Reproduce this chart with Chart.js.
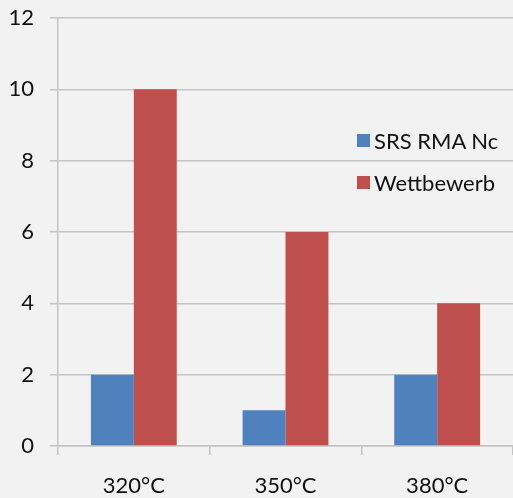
<!DOCTYPE html>
<html>
<head>
<meta charset="utf-8">
<script src="https://cdn.jsdelivr.net/npm/chart.js@4.4.1/dist/chart.umd.min.js"></script>
<style>
  html, body { margin: 0; padding: 0; background: #f2f2f2; }
  #wrap { position: relative; width: 513px; height: 498px; overflow: hidden; background: #f2f2f2; }
  #legend { position: absolute; left: 357px; top: 0; font-family: Lato, sans-serif; font-size: 22px; color: #111; }
  .item { position: absolute; left: 0; white-space: nowrap; display: flex; align-items: center; height: 30px; }
  .sw { width: 13px; height: 13px; margin-right: 4px; flex: none; }
</style>
</head>
<body>
<div id="wrap">
  <canvas id="c" width="513" height="498"></canvas>
  <div id="legend"></div>
</div>
<script>
const categories = ["320°C", "350°C", "380°C"];
const seriesNames = ["SRS RMA Nc", "Wettbewerb"];
const srsValues = [2, 1, 2];
const wettbewerbValues = [10, 6, 4];
const yTicks = [0, 2, 4, 6, 8, 10, 12];

const colors = ["#4f81bd", "#c0504d"];
const gridColor = "#c4c4c4";

const chart = new Chart(document.getElementById("c"), {
  type: "bar",
  data: {
    labels: categories,
    datasets: [
      { label: seriesNames[0], data: srsValues, backgroundColor: colors[0] },
      { label: seriesNames[1], data: wettbewerbValues, backgroundColor: colors[1] }
    ]
  },
  options: {
    responsive: false,
    animation: false,
    layout: { padding: { top: 18, right: 0, left: 0, bottom: 0 } },
    datasets: { bar: { categoryPercentage: 0.566, barPercentage: 1.0 } },
    plugins: { legend: { display: false }, tooltip: { enabled: false } },
    scales: {
      x: {
        grid: { display: true, drawOnChartArea: false, drawTicks: true, tickLength: 9, color: gridColor, lineWidth: 1.5, offset: true },
        border: { display: true, color: gridColor, width: 1.5 },
        ticks: { color: "#111", font: { family: "Lato", size: 22 }, padding: 18 },
        afterFit: (s) => { s.height = 52; s.paddingLeft = 0; s.paddingRight = 0; }
      },
      y: {
        min: 0, max: 12,
        afterBuildTicks: (s) => { s.ticks = yTicks.map(v => ({ value: v })); },
        grid: { color: gridColor, lineWidth: 1.5, tickLength: 8 },
        border: { display: true, color: gridColor, width: 1.5 },
        ticks: { color: "#111", font: { family: "Lato", size: 22 }, padding: 16 },
        afterFit: (s) => { s.width = 58; s.paddingTop = 0; s.paddingBottom = 0; }
      }
    }
  }
});

// HTML legend from dataset labels
const legend = document.getElementById("legend");
const rowCenters = [140, 182];
chart.data.datasets.forEach((ds, i) => {
  const item = document.createElement("div");
  item.className = "item";
  item.style.top = (rowCenters[i] - 15) + "px";
  const sw = document.createElement("span");
  sw.className = "sw";
  sw.style.background = ds.backgroundColor;
  const tx = document.createElement("span");
  tx.textContent = ds.label;
  item.appendChild(sw);
  item.appendChild(tx);
  legend.appendChild(item);
});
</script>
</body>
</html>
